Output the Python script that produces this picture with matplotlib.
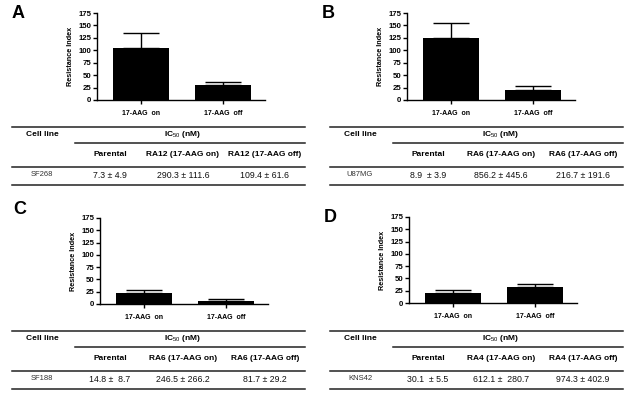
import matplotlib
matplotlib.use('Agg')
import matplotlib.pyplot as plt

plt.rcParams['font.family'] = ['Liberation Sans', 'DejaVu Sans']
plt.rcParams['mathtext.fontset'] = 'custom'
plt.rcParams['mathtext.rm'] = 'Liberation Sans'
plt.rcParams['mathtext.it'] = 'Liberation Sans'
plt.rcParams['mathtext.bf'] = 'Liberation Sans:bold'

W, H = 625, 393

# data
groups = ['17-AAG  on', '17-AAG  off']
yticks = [0, 25, 50, 75, 100, 125, 150, 175]

ri_a = [105, 30]
err_a = [30, 6]
ri_b = [124, 20]
err_b = [31, 8]
ri_c = [23, 7]
err_c = [6, 2.5]
ri_d = [20, 33.5]
err_d = [5.5, 5]

cell_a = 'SF268'
cell_b = 'U87MG'
cell_c = 'SF188'
cell_d = 'KNS42'

cols_a = ['Parental', 'RA12 (17-AAG on)', 'RA12 (17-AAG off)']
cols_b = ['Parental', 'RA6 (17-AAG on)', 'RA6 (17-AAG off)']
cols_c = ['Parental', 'RA6 (17-AAG on)', 'RA6 (17-AAG off)']
cols_d = ['Parental', 'RA4 (17-AAG on)', 'RA4 (17-AAG off)']

ic50_a = ['7.3 \u00b1 4.9', '290.3 \u00b1 111.6', '109.4 \u00b1 61.6']
ic50_b = ['8.9  \u00b1 3.9', '856.2 \u00b1 445.6', '216.7 \u00b1 191.6']
ic50_c = ['14.8 \u00b1  8.7', '246.5 \u00b1 266.2', '81.7 \u00b1 29.2']
ic50_d = ['30.1  \u00b1 5.5', '612.1 \u00b1  280.7', '974.3 \u00b1 402.9']

fig = plt.figure(figsize=(W / 100, H / 100), dpi=100)

# overlay in pixel coords for tables / letters
ov = fig.add_axes([0, 0, 1, 1])
ov.set_xlim(0, W)
ov.set_ylim(H, 0)
ov.axis('off')


def panel(letter, lx, ly, axl, axt, axb, tx, ty, vals, errs, cell, cols, ic50):
    ov.text(lx, ly, letter, fontsize=13, fontweight='bold', ha='left', va='center')

    ax = fig.add_axes([axl / W, 1 - axb / H, 168 / W, (axb - axt) / H])
    ax.bar([0, 1], vals, width=0.68, color='black')
    ax.errorbar([0, 1], vals, yerr=[[0, 0], errs], fmt='none', ecolor='black',
                elinewidth=1.0, capsize=13, capthick=1.0)
    ax.set_xlim(-0.537, 1.512)
    ax.set_ylim(0, 175)
    ax.set_yticks(yticks)
    ax.set_xticks([0, 1])
    ax.set_xticklabels(groups, fontsize=5, fontweight='bold')
    ax.tick_params(axis='y', labelsize=5.6, length=3, width=1.0, pad=1)
    ax.tick_params(axis='x', length=3, width=1.0, pad=4)
    for t in ax.get_yticklabels():
        t.set_fontweight('bold')
    ax.set_ylabel('Resistance Index', fontsize=5.2, fontweight='bold', labelpad=3)
    ax.spines['top'].set_visible(False)
    ax.spines['right'].set_visible(False)
    ax.spines['left'].set_linewidth(1.0)
    ax.spines['bottom'].set_linewidth(1.0)

    # table
    lw = 1.1
    ov.plot([tx, tx + 293], [ty, ty], color='#222222', lw=lw)
    ov.plot([tx + 63, tx + 293], [ty + 16, ty + 16], color='#222222', lw=lw)
    ov.plot([tx, tx + 293], [ty + 40, ty + 40], color='#222222', lw=lw)
    ov.plot([tx, tx + 293], [ty + 58, ty + 58], color='#222222', lw=lw)
    ov.text(tx + 30, ty + 8, 'Cell line', fontsize=6, fontweight='bold', ha='center', va='center')
    ov.text(tx + 170, ty + 8, r'IC$_{50}$ (nM)', fontsize=6, fontweight='bold', ha='center', va='center')
    for xo, c in zip([98, 171, 253], cols):
        ov.text(tx + xo, ty + 28, c, fontsize=6, fontweight='bold', ha='center', va='center')
    ov.text(tx + 30, ty + 48, cell, fontsize=5.5, color='#333333', ha='center', va='center')
    for xo, v in zip([98, 171, 253], ic50):
        ov.text(tx + xo, ty + 48, v, fontsize=6.3, color='#111111', ha='center', va='center')


panel('A', 12, 14, 97, 13, 100, 12, 127, ri_a, err_a, cell_a, cols_a, ic50_a)
panel('B', 322, 13, 407, 13, 100, 330, 127, ri_b, err_b, cell_b, cols_b, ic50_b)
panel('C', 13, 210, 100, 218, 304, 12, 331, ri_c, err_c, cell_c, cols_c, ic50_c)
panel('D', 324, 217, 409, 217, 303, 330, 331, ri_d, err_d, cell_d, cols_d, ic50_d)

fig.savefig('out.png', dpi=100)
